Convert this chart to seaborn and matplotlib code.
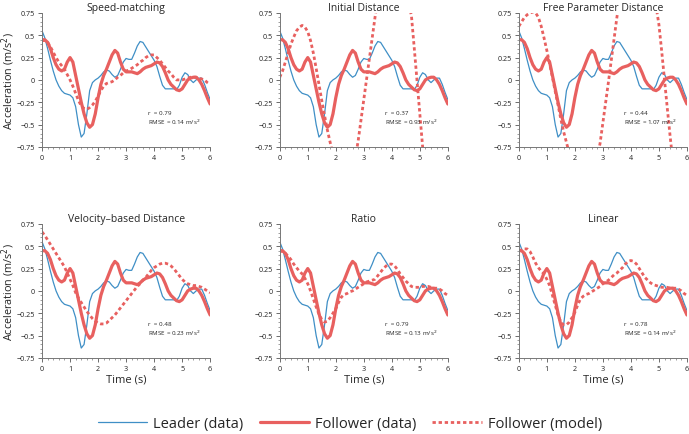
import numpy as np
import pandas as pd
import matplotlib
matplotlib.use("Agg")
import matplotlib.pyplot as plt
import seaborn as sns
from matplotlib.ticker import MultipleLocator

# time axis (s), sampled every 0.1 s
time = [round(0.1 * i, 1) for i in range(61)]

leader = [0.55, 0.47, 0.35, 0.22, 0.10, 0.00, -0.07, -0.12, -0.15, -0.16,
          -0.17, -0.20, -0.30, -0.50, -0.64, -0.60, -0.38, -0.12, -0.03, 0.00,
          0.02, 0.05, 0.09, 0.11, 0.10, 0.06, 0.03, 0.05, 0.12, 0.20,
          0.24, 0.23, 0.23, 0.30, 0.38, 0.43, 0.42, 0.37, 0.32, 0.27,
          0.22, 0.15, 0.04, -0.06, -0.10, -0.10, -0.10, -0.10, -0.11, -0.06,
          0.03, 0.08, 0.06, 0.00, -0.03, 0.00, 0.02, 0.02, -0.05, -0.14,
          -0.22]

follower = [0.45, 0.45, 0.42, 0.35, 0.25, 0.17, 0.12, 0.10, 0.12, 0.20,
            0.25, 0.20, 0.05, -0.10, -0.25, -0.38, -0.48, -0.53, -0.50, -0.38,
            -0.20, -0.05, 0.05, 0.12, 0.20, 0.28, 0.33, 0.30, 0.20, 0.12,
            0.09, 0.09, 0.09, 0.08, 0.07, 0.09, 0.12, 0.14, 0.15, 0.16,
            0.18, 0.20, 0.19, 0.15, 0.08, 0.00, -0.05, -0.08, -0.11, -0.12,
            -0.10, -0.05, 0.00, 0.02, 0.03, 0.03, 0.00, -0.05, -0.12, -0.20,
            -0.27]

model_speed = [0.44, 0.44, 0.42, 0.37, 0.31, 0.25, 0.20, 0.16, 0.12, 0.06,
               0.00, -0.07, -0.15, -0.23, -0.29, -0.32, -0.33, -0.31, -0.28, -0.24,
               -0.18, -0.12, -0.07, -0.04, -0.03, -0.02, 0.00, 0.03, 0.05, 0.08,
               0.10, 0.11, 0.13, 0.15, 0.17, 0.20, 0.22, 0.25, 0.27, 0.28,
               0.28, 0.25, 0.22, 0.18, 0.14, 0.10, 0.07, 0.03, 0.00, 0.00,
               0.00, 0.01, 0.02, 0.03, 0.03, 0.03, 0.02, 0.01, 0.00, -0.03,
               -0.05]

model_initial = [0.03, 0.10, 0.20, 0.30, 0.40, 0.48, 0.55, 0.59, 0.61, 0.59,
                 0.54, 0.44, 0.30, 0.13, -0.05, -0.23, -0.40, -0.56, -0.70, -0.83,
                 -0.95, -1.05, -1.12, -1.15, -1.15, -1.10, -1.00, -0.87, -0.68, -0.45,
                 -0.22, 0.01, 0.24, 0.47, 0.70, 0.90, 1.05, 1.17, 1.24, 1.28,
                 1.29, 1.27, 1.22, 1.15, 1.06, 0.96, 0.85, 0.72, 0.36, -0.01,
                 -0.38, -0.75, -1.05, -1.30, -1.50, -1.65, -1.72, -1.75, -1.72, -1.65,
                 -1.55]

model_free = [0.60, 0.65, 0.70, 0.73, 0.75, 0.76, 0.75, 0.70, 0.60, 0.47,
              0.33, 0.18, 0.03, -0.13, -0.28, -0.44, -0.58, -0.70, -0.82, -0.93,
              -1.03, -1.12, -1.18, -1.22, -1.23, -1.20, -1.12, -1.00, -0.87, -0.71,
              -0.48, -0.25, -0.02, 0.22, 0.46, 0.70, 0.90, 1.08, 1.20, 1.30,
              1.37, 1.41, 1.42, 1.40, 1.35, 1.28, 1.20, 1.08, 0.95, 0.82,
              0.62, 0.32, 0.00, -0.32, -0.63, -0.92, -1.15, -1.35, -1.50, -1.60,
              -1.65]

model_velocity = [0.66, 0.62, 0.57, 0.52, 0.47, 0.42, 0.37, 0.32, 0.27, 0.20,
                  0.13, 0.06, -0.02, -0.08, -0.13, -0.18, -0.23, -0.27, -0.31, -0.34,
                  -0.36, -0.37, -0.37, -0.36, -0.33, -0.30, -0.27, -0.23, -0.19, -0.15,
                  -0.11, -0.07, -0.03, 0.01, 0.05, 0.08, 0.12, 0.15, 0.19, 0.23,
                  0.26, 0.28, 0.30, 0.31, 0.31, 0.30, 0.28, 0.25, 0.21, 0.17,
                  0.13, 0.10, 0.08, 0.07, 0.06, 0.06, 0.05, 0.04, 0.02, 0.00,
                  -0.02]

model_ratio = [0.45, 0.44, 0.42, 0.39, 0.35, 0.30, 0.26, 0.22, 0.19, 0.14,
               0.08, 0.00, -0.09, -0.18, -0.26, -0.32, -0.35, -0.34, -0.30, -0.25,
               -0.20, -0.13, -0.07, -0.04, -0.03, -0.01, 0.00, 0.02, 0.04, 0.06,
               0.08, 0.10, 0.11, 0.12, 0.13, 0.17, 0.21, 0.25, 0.28, 0.30,
               0.30, 0.28, 0.24, 0.19, 0.15, 0.11, 0.08, 0.05, 0.04, 0.04,
               0.04, 0.05, 0.05, 0.05, 0.04, 0.03, 0.03, 0.02, 0.00, -0.03,
               -0.05]

model_linear = [0.45, 0.46, 0.47, 0.47, 0.44, 0.38, 0.31, 0.26, 0.22, 0.19,
                0.13, 0.06, -0.05, -0.16, -0.27, -0.35, -0.38, -0.38, -0.35, -0.30,
                -0.24, -0.16, -0.09, -0.06, -0.04, -0.03, -0.01, 0.01, 0.03, 0.05,
                0.08, 0.10, 0.12, 0.15, 0.18, 0.20, 0.23, 0.26, 0.30, 0.33,
                0.34, 0.33, 0.30, 0.25, 0.20, 0.15, 0.12, 0.09, 0.07, 0.06,
                0.05, 0.04, 0.04, 0.04, 0.03, 0.03, 0.03, 0.02, 0.00, -0.03,
                -0.05]

titles = ["Speed-matching", "Initial Distance", "Free Parameter Distance",
          "Velocity\u2013based Distance", "Ratio", "Linear"]
models = [model_speed, model_initial, model_free,
          model_velocity, model_ratio, model_linear]
r_values = ["0.79", "0.37", "0.44", "0.48", "0.79", "0.78"]
rmse_values = ["0.14", "0.93", "1.07", "0.23", "0.13", "0.14"]

blue = "#3f8fc6"
red = "#e8605f"

sns.set_theme(style="ticks")
plt.rcParams["font.family"] = ["Open Sans", "DejaVu Sans"]

fig = plt.figure(figsize=(6.89, 4.35), dpi=100)

lefts = [0.061, 0.406, 0.753]
bottoms = [0.660, 0.175]
w, h = 0.244, 0.308


def fmt_tick(v, pos):
    if abs(v) < 1e-9:
        return "0"
    return f"{v:g}".replace("-", "\u2212")


for i, (title, model) in enumerate(zip(titles, models)):
    row, col = divmod(i, 3)
    ax = fig.add_axes([lefts[col], bottoms[row], w, h])
    sns.lineplot(x=time, y=leader, ax=ax, color=blue, linewidth=0.9,
                 label="Leader (data)", legend=False)
    sns.lineplot(x=time, y=follower, ax=ax, color=red, linewidth=2.3,
                 label="Follower (data)", legend=False)
    sns.lineplot(x=time, y=model, ax=ax, color=red, linewidth=2.0,
                 linestyle=(0, (1.2, 1.0)), label="Follower (model)", legend=False)

    ax.set_xlim(0, 6)
    ax.set_ylim(-0.75, 0.75)
    ax.xaxis.set_major_locator(MultipleLocator(1))
    ax.xaxis.set_minor_locator(MultipleLocator(0.2))
    ax.yaxis.set_major_locator(MultipleLocator(0.25))
    ax.yaxis.set_minor_locator(MultipleLocator(0.05))
    ax.yaxis.set_major_formatter(plt.FuncFormatter(fmt_tick))
    ax.tick_params(which="major", length=3, width=0.6, labelsize=5.2,
                   colors="#555555", labelcolor="#222222", pad=2)
    ax.tick_params(which="minor", length=1.5, width=0.5, colors="#777777")
    for side in ["top", "right"]:
        ax.spines[side].set_visible(False)
    for side in ["left", "bottom"]:
        ax.spines[side].set_color("#777777")
        ax.spines[side].set_linewidth(0.7)
    ax.set_title(title, fontsize=7.5, pad=2)
    if row == 1:
        ax.set_xlabel("Time (s)", fontsize=8, labelpad=1)
    else:
        ax.set_xlabel("")
    if col == 0:
        ax.set_ylabel("Acceleration (m/s$^2$)", fontsize=7.8)
        ax.yaxis.set_label_coords(-0.15, 0.5)
    else:
        ax.set_ylabel("")
    ax.text(3.77, -0.36, f"r  = {r_values[i]}", fontsize=4.5, va="center")
    ax.text(3.77, -0.46, f"RMSE = {rmse_values[i]} m/s$^2$", fontsize=4.5, va="center")
    if i == 0:
        handles, labels = ax.get_legend_handles_labels()

fig.legend(handles, labels, loc="center", bbox_to_anchor=(0.508, 0.024), ncol=3,
           frameon=False, fontsize=10.5, handlelength=3.4, columnspacing=1.1,
           handletextpad=0.4)

fig.savefig("out.png", dpi=100)
